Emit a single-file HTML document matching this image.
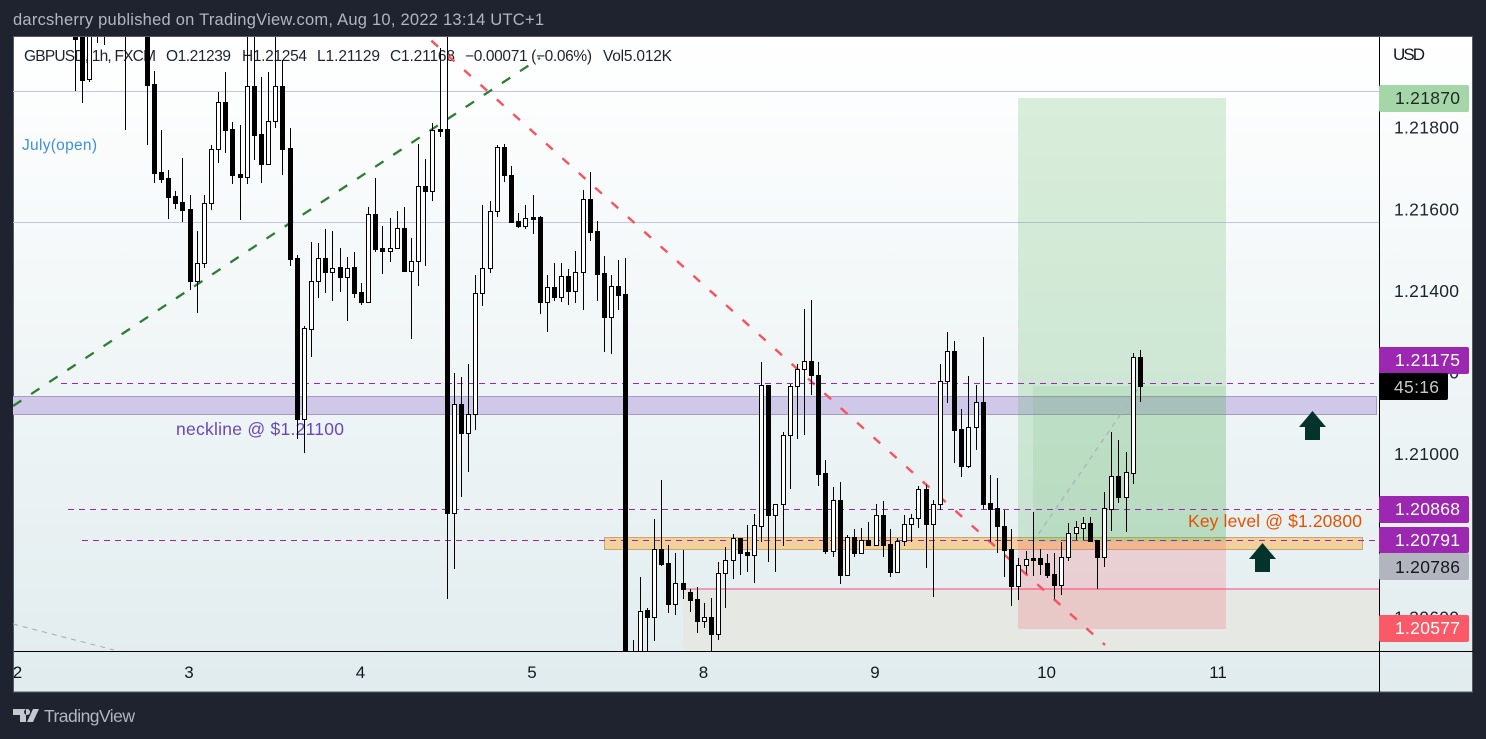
<!DOCTYPE html>
<html lang="en">
<head>
<meta charset="utf-8">
<title>GBPUSD 1h chart</title>
<style>
html,body{margin:0;padding:0;background:#1f2330;}
body{width:1486px;height:739px;overflow:hidden;}
svg{display:block;font-family:"Liberation Sans",sans-serif;}
</style>
</head>
<body>
<svg id="chart" xmlns="http://www.w3.org/2000/svg" width="1486" height="739" viewBox="0 0 1486 739">
  <defs>
    <linearGradient id="bg-grad" x1="0" y1="0" x2="0" y2="1">
      <stop offset="0" stop-color="#ffffff"/>
      <stop offset="1" stop-color="#e1ecee"/>
    </linearGradient>
    <clipPath id="plot-clip"><rect x="13" y="37" width="1366" height="614"/></clipPath>
  </defs>

  <rect x="0" y="0" width="1486" height="739" fill="#1f2330"/>
  <text x="13" y="25" font-size="16.5" fill="#b2b5be" textLength="531" lengthAdjust="spacing">darcsherry published on TradingView.com, Aug 10, 2022 13:14 UTC+1</text>

  <rect x="13.5" y="36.5" width="1459" height="655.5" fill="url(#bg-grad)" stroke="#555963" stroke-width="1"/>

  <g id="legend" font-size="15.5" fill="#1f232e">
    <text x="24" y="61" textLength="132" lengthAdjust="spacing">GBPUSD, 1h, FXCM</text>
    <text x="166" y="61" textLength="65" lengthAdjust="spacing">O1.21239</text>
    <text x="242" y="61" textLength="65" lengthAdjust="spacing">H1.21254</text>
    <text x="317" y="61" textLength="63" lengthAdjust="spacing">L1.21129</text>
    <text x="390" y="61" textLength="65" lengthAdjust="spacing">C1.21168</text>
    <text x="465" y="61" textLength="127" lengthAdjust="spacing">−0.00071 (−0.06%)</text>
    <text x="603" y="61" textLength="69" lengthAdjust="spacing">Vol5.012K</text>
  </g>

  <g clip-path="url(#plot-clip)">
    <line x1="13" x2="1379" y1="91.5" y2="91.5" stroke="#c6c3e6" stroke-width="1"/>
    <line x1="13" x2="1379" y1="222.5" y2="222.5" stroke="#c6c3e6" stroke-width="1"/>

    <rect x="683" y="589" width="696" height="62" fill="#e6e8e3"/>
    <rect x="12.5" y="396.5" width="1364" height="18" fill="#cfc8e8" stroke="#a79cc2" stroke-width="1"/>
    <rect x="604.5" y="537.5" width="758" height="12" fill="#f3d19b" stroke="#c6a778" stroke-width="1"/>

    <rect x="1018" y="98" width="208" height="444" fill="#4caf50" fill-opacity="0.2"/>
    <rect x="1033" y="386" width="193" height="156" fill="#4caf50" fill-opacity="0.12"/>
    <rect x="1018" y="542" width="208" height="87" fill="#f7525f" fill-opacity="0.2"/>
    <line x1="1033" y1="542" x2="1140" y2="386" stroke="#aab8c0" stroke-width="1.5" stroke-dasharray="5 5"/>
    <line x1="683" x2="1379" y1="589" y2="589" stroke="#ef9ab9" stroke-width="2"/>
    <line x1="1018" x2="1226" y1="589" y2="589" stroke="#f7839c" stroke-width="2"/>

    <line x1="13" y1="406" x2="540" y2="58" stroke="#2e7d32" stroke-width="2.3" stroke-dasharray="10 11.7"/>
    <line x1="415" y1="26" x2="1105" y2="645" stroke="#f7525f" stroke-width="2.4" stroke-dasharray="9 13"/>
    <line x1="13" y1="624" x2="114" y2="650" stroke="#a2abb0" stroke-width="1" stroke-dasharray="5 5"/>

    <line x1="61" x2="1374" y1="383.5" y2="383.5" stroke="#9c27b0" stroke-width="1" stroke-dasharray="6 5"/>
    <line x1="68" x2="1379" y1="509.5" y2="509.5" stroke="#9c27b0" stroke-width="1" stroke-dasharray="6 5"/>
    <line x1="82" x2="1379" y1="540.5" y2="540.5" stroke="#9c27b0" stroke-width="1" stroke-dasharray="6 5"/>

    <text x="22" y="150" font-size="15.5" fill="#3f90d9" textLength="75" lengthAdjust="spacing">July(open)</text>
    <text x="176" y="435" font-size="17.5" fill="#6a47bd" textLength="168" lengthAdjust="spacing">neckline @ $1.21100</text>
    <text x="1188" y="527" font-size="17.5" fill="#e65100" textLength="174" lengthAdjust="spacing">Key level @ $1.20800</text>

    <polygon points="1312.5,411 1326,427 1320,427 1320,440 1305,440 1305,427 1299,427" fill="#04332c"/>
    <polygon points="1262.5,543 1276,559 1270,559 1270,572 1255,572 1255,559 1249,559" fill="#04332c"/>

    <g id="candles"></g>
  </g>

  <g id="y-ticks"></g>
  <g id="x-ticks"></g>

  <line x1="1379.5" x2="1379.5" y1="37" y2="692" stroke="#000" stroke-width="1"/>
  <line x1="14" x2="1473" y1="651.5" y2="651.5" stroke="#000" stroke-width="1"/>

  <text x="1393" y="60" font-size="17" fill="#131722" textLength="32" lengthAdjust="spacing">USD</text>

  <g font-size="17.5">
    <rect x="1379" y="85" width="90" height="27" rx="2" fill="#a5d6a7"/>
    <text x="1395" y="104" fill="#1f2a24" textLength="65" lengthAdjust="spacing">1.21870</text>
    <rect x="1379" y="347" width="90" height="27" rx="2" fill="#9c27b0"/>
    <text x="1395" y="366" fill="#fff" textLength="65" lengthAdjust="spacing">1.21175</text>
    <rect x="1379" y="373" width="69" height="27" rx="2" fill="#000"/>
    <text x="1394" y="393" fill="#c8c8c8" textLength="45" lengthAdjust="spacing">45:16</text>
    <rect x="1379" y="496" width="90" height="27" rx="2" fill="#9c27b0"/>
    <text x="1395" y="515" fill="#fff" textLength="65" lengthAdjust="spacing">1.20868</text>
    <rect x="1379" y="553" width="90" height="27" rx="2" fill="#b2b5be"/>
    <text x="1395" y="573" fill="#131722" textLength="65" lengthAdjust="spacing">1.20786</text>
    <rect x="1379" y="527" width="90" height="26" rx="2" fill="#9c27b0"/>
    <text x="1395" y="546" fill="#fff" textLength="65" lengthAdjust="spacing">1.20791</text>
    <rect x="1379" y="615" width="90" height="27" rx="2" fill="#fa5a68"/>
    <text x="1395" y="634" fill="#fff" textLength="65" lengthAdjust="spacing">1.20577</text>
  </g>

  <g>
    <path d="M13 709h13v13h-6v-7h-7zM27 709a3 3 0 1 0 .1 0zM33 709h6l-6 13h-6z" fill="#c5c8cf"/>
    <text x="44" y="722" font-size="17.5" fill="#b2b5be" textLength="91" lengthAdjust="spacing">TradingView</text>
  </g>
</svg>

<script>
const startBar = 8;
const opens = [1.22040,1.22040,1.21919,1.22040,1.22064,1.22064,1.22052,1.22064,1.22052,1.22064,
1.22040,1.21907,1.21691,1.21677,1.21633,1.21618,1.21601,1.21425,1.21468,1.21615,
1.21747,1.21862,1.21796,1.21686,1.21678,1.21902,1.21784,1.21712,1.21816,1.21902,
1.21750,1.21480,1.21086,1.21308,1.21424,1.21480,1.21447,1.21458,1.21435,1.21458,
1.21397,1.21374,1.21588,1.21505,1.21499,1.21505,1.21554,1.21450,1.21474,1.21658,
1.21646,1.21796,1.21796,1.20855,1.21123,1.21053,1.21098,1.21394,1.21457,1.21597,
1.21752,1.21683,1.21571,1.21560,1.21581,1.21581,1.21374,1.21410,1.21386,1.21437,
1.21401,1.21446,1.21625,1.21546,1.21443,1.21335,1.21412,1.21393,1.20484,1.20484,
1.20618,1.20600,1.20767,1.20733,1.20632,1.20685,1.20663,1.20645,1.20592,1.20601,
1.20560,1.20708,1.20740,1.20794,1.20761,1.20754,1.20825,1.21169,1.20850,1.20878,
1.21047,1.21166,1.21208,1.21228,1.21194,1.20954,1.20764,1.20887,1.20705,1.20797,
1.20759,1.20790,1.20778,1.20851,1.20780,1.20712,1.20787,1.20829,1.20843,1.20914,
1.20830,1.20878,1.21179,1.21252,1.21061,1.20970,1.21066,1.21127,1.20880,1.20868,
1.20824,1.20768,1.20676,1.20728,1.20745,1.20745,1.20733,1.20707,1.20680,1.20747,
1.20806,1.20820,1.20831,1.20790,1.20749,1.20867,1.20947,1.20894,1.20955,1.21238];
const highs = [1.22064,1.22064,1.22064,1.22076,1.22076,1.22076,1.22076,1.22076,1.22076,1.22076,
1.22064,1.21939,1.21795,1.21697,1.21645,1.21726,1.21635,1.21547,1.21635,1.21758,
1.21887,1.21936,1.21815,1.21807,1.22064,1.22064,1.21924,1.21937,1.22064,1.21966,
1.21799,1.21488,1.21314,1.21519,1.21517,1.21551,1.21547,1.21505,1.21484,1.21495,
1.21419,1.21605,1.21676,1.21559,1.21578,1.21596,1.21605,1.21529,1.21760,1.21723,
1.21812,1.21996,1.22064,1.21198,1.21189,1.21221,1.21439,1.21611,1.21620,1.21758,
1.21759,1.21706,1.21590,1.21611,1.21635,1.21584,1.21439,1.21468,1.21468,1.21453,
1.21498,1.21648,1.21692,1.21572,1.21486,1.21439,1.21476,1.21480,1.20545,1.20699,
1.20623,1.20841,1.20937,1.20778,1.20757,1.20765,1.20669,1.20674,1.20635,1.20647,
1.20735,1.20772,1.20804,1.20794,1.20826,1.20853,1.21225,1.21169,1.20878,1.21054,
1.21172,1.21220,1.21355,1.21378,1.21225,1.20986,1.20919,1.20931,1.20802,1.20816,
1.20819,1.20834,1.20878,1.20886,1.20816,1.20794,1.20851,1.20854,1.20922,1.20925,
1.20888,1.21221,1.21299,1.21278,1.21110,1.21192,1.21170,1.21287,1.20949,1.20941,
1.20863,1.20816,1.20745,1.20763,1.20858,1.20767,1.20755,1.20757,1.20785,1.20832,
1.20837,1.20846,1.20845,1.20790,1.20907,1.21054,1.21035,1.21005,1.21247,1.21256];
const lows = [1.21891,1.21861,1.21913,1.22008,1.22003,1.22040,1.22040,1.21795,1.22040,1.22030,
1.21758,1.21665,1.21665,1.21576,1.21601,1.21570,1.21403,1.21347,1.21456,1.21599,
1.21714,1.21739,1.21661,1.21574,1.21661,1.21721,1.21665,1.21709,1.21800,1.21684,
1.21460,1.21037,1.21002,1.21239,1.21382,1.21396,1.21376,1.21398,1.21327,1.21382,
1.21366,1.21372,1.21496,1.21442,1.21472,1.21505,1.21447,1.21283,1.21412,1.21460,
1.21620,1.21776,1.20645,1.20720,1.20894,1.20957,1.21060,1.21363,1.21443,1.21582,
1.21668,1.21570,1.21555,1.21553,1.21540,1.21344,1.21300,1.21376,1.21373,1.21366,
1.21371,1.21354,1.21523,1.21376,1.21251,1.21246,1.21354,1.20374,1.20398,1.20471,
1.20484,1.20543,1.20725,1.20612,1.20605,1.20645,1.20614,1.20563,1.20574,1.20484,
1.20545,1.20623,1.20694,1.20704,1.20712,1.20685,1.20786,1.20737,1.20712,1.20774,
1.20915,1.21038,1.21047,1.21145,1.20921,1.20756,1.20747,1.20682,1.20705,1.20747,
1.20759,1.20778,1.20778,1.20749,1.20700,1.20712,1.20774,1.20786,1.20820,1.20722,
1.20651,1.20863,1.21126,1.20979,1.20943,1.20967,1.21011,1.20866,1.20786,1.20759,
1.20698,1.20629,1.20643,1.20707,1.20702,1.20704,1.20697,1.20645,1.20655,1.20739,
1.20790,1.20790,1.20785,1.20670,1.20724,1.20812,1.20881,1.20810,1.20927,1.21128];
const closes = [1.22017,1.21917,1.22040,1.22064,1.22040,1.22052,1.22064,1.22052,1.22064,1.22040,
1.21905,1.21690,1.21674,1.21631,1.21616,1.21599,1.21425,1.21468,1.21615,1.21747,
1.21862,1.21795,1.21685,1.21678,1.21902,1.21783,1.21712,1.21816,1.21902,1.21749,
1.21479,1.21086,1.21309,1.21424,1.21480,1.21447,1.21457,1.21435,1.21457,1.21396,
1.21374,1.21588,1.21504,1.21499,1.21505,1.21554,1.21450,1.21474,1.21658,1.21646,
1.21794,1.21793,1.20855,1.21122,1.21053,1.21098,1.21394,1.21457,1.21597,1.21752,
1.21683,1.21570,1.21560,1.21578,1.21577,1.21374,1.21409,1.21386,1.21436,1.21400,
1.21446,1.21625,1.21545,1.21442,1.21335,1.21412,1.21391,1.20398,1.20471,1.20617,
1.20600,1.20767,1.20731,1.20632,1.20684,1.20671,1.20643,1.20592,1.20601,1.20560,
1.20708,1.20740,1.20794,1.20759,1.20754,1.20826,1.21169,1.20850,1.20878,1.21047,
1.21166,1.21208,1.21228,1.21193,1.20952,1.20763,1.20887,1.20705,1.20797,1.20759,
1.20789,1.20778,1.20851,1.20778,1.20712,1.20787,1.20829,1.20843,1.20914,1.20830,
1.20878,1.21179,1.21252,1.21060,1.20970,1.21066,1.21127,1.20878,1.20867,1.20823,
1.20765,1.20676,1.20728,1.20743,1.20741,1.20731,1.20705,1.20680,1.20748,1.20806,
1.20821,1.20831,1.20787,1.20749,1.20868,1.20946,1.20894,1.20956,1.21238,1.21166];
const priceTicks = [1.218, 1.216, 1.214, 1.212, 1.210, 1.208, 1.206];
const dayLabels = ["2","3","4","5","8","9","10","11"];
const dayBars = [0,24,48,72,96,120,144,168];

function yOf(p){ return 127.7 + (1.218 - p) * 40816; }
function xOf(bar){ return 18 + 7.146 * bar; }

const NS = "http://www.w3.org/2000/svg";
const candleGroup = document.getElementById("candles");
opens.forEach(function(o, i){
  const c = closes[i];
  const up = c >= o;
  const cx = Math.round(xOf(startBar + i));
  const wick = document.createElementNS(NS, "line");
  
  
  wick.setAttribute("x1", cx + 0.5);
  wick.setAttribute("x2", cx + 0.5);
  wick.setAttribute("y1", Math.round(yOf(highs[i])));
  wick.setAttribute("y2", Math.round(yOf(lows[i])));
  wick.setAttribute("stroke", "#000");
  wick.setAttribute("stroke-width", "1");
  candleGroup.appendChild(wick);
  const top = Math.round(yOf(Math.max(o, c)));
  const bot = Math.round(yOf(Math.min(o, c)));
  const body = document.createElementNS(NS, "rect");
  
  
  body.setAttribute("x", cx - 1.5);
  body.setAttribute("y", top + 0.5);
  body.setAttribute("width", 4);
  body.setAttribute("height", Math.max(bot - top, 1));
  body.setAttribute("fill", up ? "#fff" : "#000");
  body.setAttribute("stroke", "#000");
  body.setAttribute("stroke-width", "1");
  candleGroup.appendChild(body);
});

const yTicks = document.getElementById("y-ticks");
priceTicks.forEach(function(p){
  const t = document.createElementNS(NS, "text");
  
  
  t.setAttribute("x", 1394);
  t.setAttribute("y", yOf(p) + 6);
  t.setAttribute("font-size", "17.5");
  t.setAttribute("fill", "#1f232e");
  t.setAttribute("textLength", "65");
  t.setAttribute("lengthAdjust", "spacing");
  t.textContent = p.toFixed(5);
  yTicks.appendChild(t);
});

const xTicks = document.getElementById("x-ticks");
dayLabels.forEach(function(label, i){
  const t = document.createElementNS(NS, "text");
  
  
  t.setAttribute("x", xOf(dayBars[i]) - 0.5);
  t.setAttribute("y", 678);
  t.setAttribute("font-size", "17");
  t.setAttribute("text-anchor", "middle");
  t.setAttribute("fill", "#131722");
  t.textContent = label;
  xTicks.appendChild(t);
});
</script>
</body>
</html>
